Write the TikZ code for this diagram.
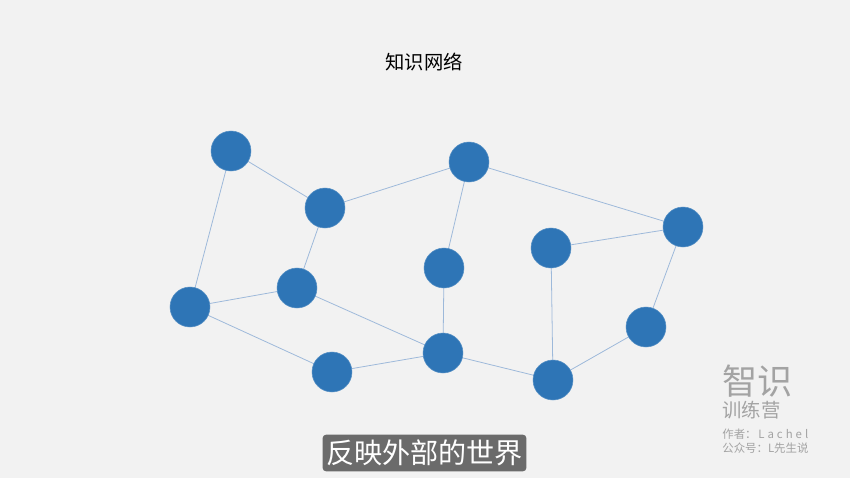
\documentclass[tikz,border=0pt]{standalone}
\usepackage{fontspec}
\setmainfont{Noto Sans CJK SC}
\usetikzlibrary{calc}
\definecolor{bgcol}{HTML}{F2F2F2}
\definecolor{dotcol}{HTML}{2E75B6}
\definecolor{linkcol}{HTML}{9DB9DA}
\definecolor{capcol}{HTML}{6B6B6B}
\definecolor{markcol}{HTML}{A3A3A3}
\tikzset{
 knot/.style={circle, fill=dotcol, draw=dotcol!80!white, line width=0.3pt, minimum size=0.8cm, inner sep=0pt},
 link/.style={linkcol, line width=0.45pt},
}
\begin{document}
\begin{tikzpicture}[x=0.02cm, y=-0.02cm]
\fill[bgcol] (0,0) rectangle (850,478);
\useasboundingbox (0,0) rectangle (850,478);
\node[font=\fontsize{11}{13}\selectfont] (title) at (424,62) {知识网络};
% knots of the network
\foreach \name/\x/\y in {a/231/151, b/325/208, c/469/162, d/683/227, e/551/248, f/444/268,
 g/297/288, h/190/307, i/646/327, j/332/372, k/443/353, l/553/380} {
 \coordinate (p\name) at (\x,\y);
}
\foreach \u/\v in {a/b, a/h, b/c, b/g, c/f, c/d, e/d, d/i, e/l, f/k, g/h, g/k, h/j, j/k, k/l, l/i} {
 \draw[link] (p\u) -- (p\v);
}
\foreach \name in {a,b,c,d,e,f,g,h,i,j,k,l} {
 \node[knot] (\name) at (p\name) {};
}
% caption
\node[fill=capcol, text=white, rounded corners=2pt, inner xsep=2pt, inner ysep=3pt,
 font=\fontsize{16}{18}\selectfont] (caption) at (424.5,453) {反映外部的世界};
% mark
\node[markcol, anchor=west, inner sep=0pt, font=\fontsize{20}{22}\selectfont] (mark) at (722,381) {智识};
\node[markcol, anchor=west, inner sep=0pt, font=\fontsize{11}{13}\selectfont] (camp) at (722,410) {训练营};
\node[markcol, anchor=west, inner sep=0pt, font=\fontsize{6.5}{7.5}\selectfont] (author) at (722,434)
 {作者：\hspace{1pt}L\hspace{1.7pt}a\hspace{1.7pt}c\hspace{1.7pt}h\hspace{1.7pt}e\hspace{1.7pt}l};
\node[markcol, anchor=west, inner sep=0pt, font=\fontsize{6.5}{7.5}\selectfont] (account) at (722,448) {公众号：L先生说};
\end{tikzpicture}
\end{document}
